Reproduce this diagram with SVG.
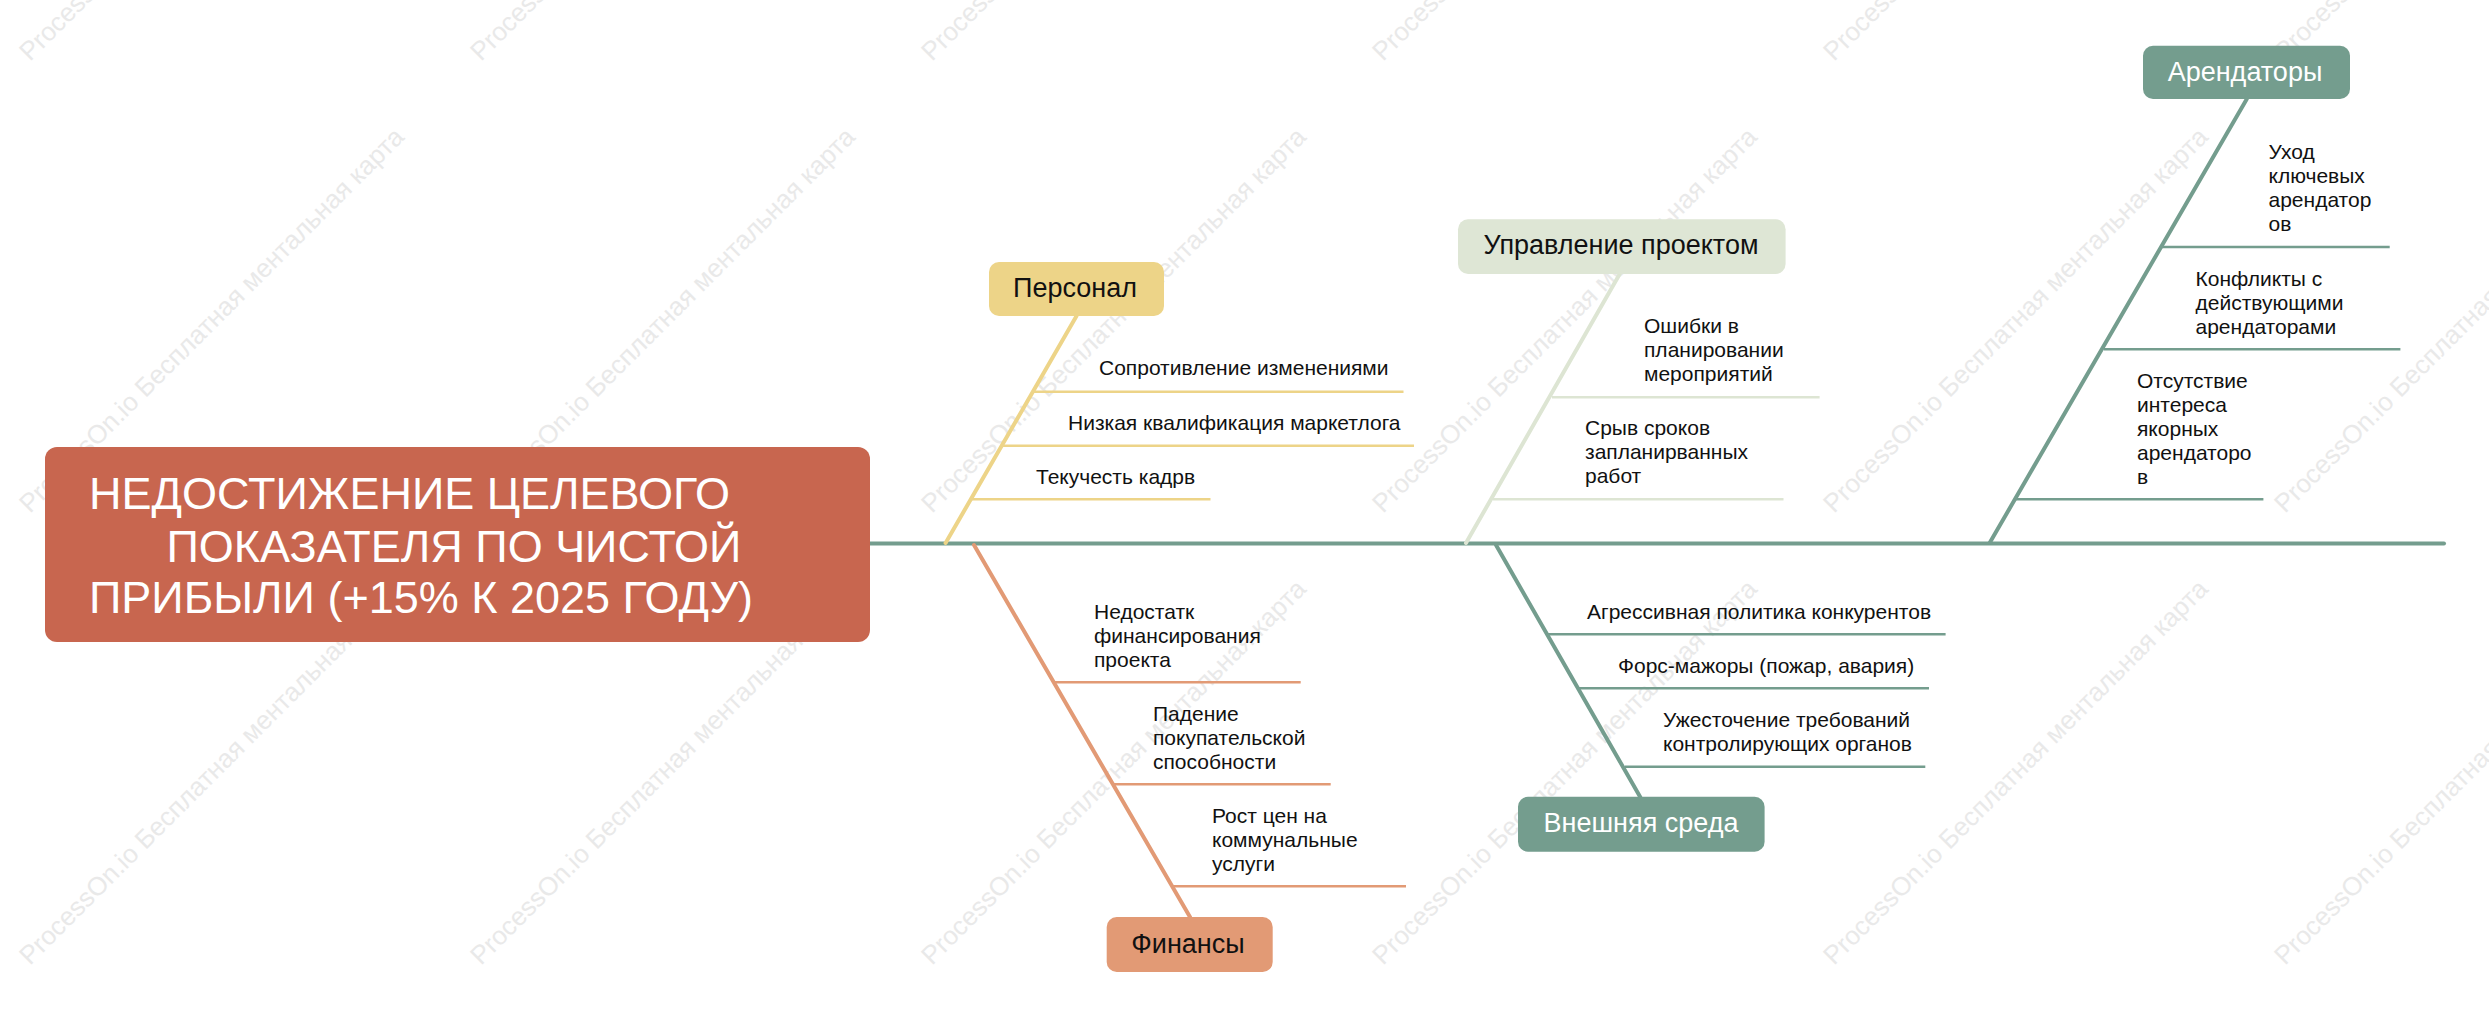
<svg xmlns="http://www.w3.org/2000/svg" width="2489" height="1032" viewBox="0 0 2489 1032">
<style>
text{font-family:"Liberation Sans",Arial,sans-serif}
.wm{font-size:26px;fill:#E9E9E9}
.leaf{font-size:21px;fill:#111}
.cat{font-size:27px;text-anchor:middle}
.dark{fill:#111}
.light{fill:#fff}
.main{font-size:45px;fill:#fff}
.teal{stroke:#749D8E}
.sage{stroke:#DDE5D3}
.gold{stroke:#EDD488}
.coral{stroke:#E29A75}
.bone{stroke-width:4;fill:none;stroke-linecap:round}
.sub{stroke-width:2.6;fill:none}
</style>
<rect width="2489" height="1032" fill="#fff"/>
<g id="watermarks">
<text class="wm" transform="translate(30,62) rotate(-45)">ProcessOn.io Бесплатная ментальная карта</text>
<text class="wm" transform="translate(481,62) rotate(-45)">ProcessOn.io Бесплатная ментальная карта</text>
<text class="wm" transform="translate(932,62) rotate(-45)">ProcessOn.io Бесплатная ментальная карта</text>
<text class="wm" transform="translate(1383,62) rotate(-45)">ProcessOn.io Бесплатная ментальная карта</text>
<text class="wm" transform="translate(1834,62) rotate(-45)">ProcessOn.io Бесплатная ментальная карта</text>
<text class="wm" transform="translate(2285,62) rotate(-45)">ProcessOn.io Бесплатная ментальная карта</text>
<text class="wm" transform="translate(30,514) rotate(-45)">ProcessOn.io Бесплатная ментальная карта</text>
<text class="wm" transform="translate(481,514) rotate(-45)">ProcessOn.io Бесплатная ментальная карта</text>
<text class="wm" transform="translate(932,514) rotate(-45)">ProcessOn.io Бесплатная ментальная карта</text>
<text class="wm" transform="translate(1383,514) rotate(-45)">ProcessOn.io Бесплатная ментальная карта</text>
<text class="wm" transform="translate(1834,514) rotate(-45)">ProcessOn.io Бесплатная ментальная карта</text>
<text class="wm" transform="translate(2285,514) rotate(-45)">ProcessOn.io Бесплатная ментальная карта</text>
<text class="wm" transform="translate(30,966) rotate(-45)">ProcessOn.io Бесплатная ментальная карта</text>
<text class="wm" transform="translate(481,966) rotate(-45)">ProcessOn.io Бесплатная ментальная карта</text>
<text class="wm" transform="translate(932,966) rotate(-45)">ProcessOn.io Бесплатная ментальная карта</text>
<text class="wm" transform="translate(1383,966) rotate(-45)">ProcessOn.io Бесплатная ментальная карта</text>
<text class="wm" transform="translate(1834,966) rotate(-45)">ProcessOn.io Бесплатная ментальная карта</text>
<text class="wm" transform="translate(2285,966) rotate(-45)">ProcessOn.io Бесплатная ментальная карта</text>
</g>
<g id="connectors">
<line class="bone teal" x1="868" y1="543.5" x2="2444" y2="543.5"/>
<line class="bone gold" x1="1076.5" y1="316" x2="945.6" y2="543"/>
<line class="sub gold" x1="1034" y1="391.7" x2="1403.5" y2="391.7"/>
<line class="sub gold" x1="1003" y1="445.7" x2="1414" y2="445.7"/>
<line class="sub gold" x1="972" y1="499.3" x2="1210.5" y2="499.3"/>
<line class="bone coral" x1="974" y1="545" x2="1190" y2="917"/>
<line class="sub coral" x1="1055" y1="682.3" x2="1300.7" y2="682.3"/>
<line class="sub coral" x1="1114" y1="784.3" x2="1330.7" y2="784.3"/>
<line class="sub coral" x1="1173" y1="886.3" x2="1406" y2="886.3"/>
<line class="bone sage" x1="1619.7" y1="274" x2="1466" y2="543"/>
<line class="sub sage" x1="1552" y1="397.3" x2="1819.6" y2="397.3"/>
<line class="sub sage" x1="1493" y1="499.3" x2="1783.5" y2="499.3"/>
<line class="bone teal" x1="1496" y1="545" x2="1640.2" y2="797"/>
<line class="sub teal" x1="1548" y1="634.3" x2="1945.6" y2="634.3"/>
<line class="sub teal" x1="1579" y1="688.3" x2="1929" y2="688.3"/>
<line class="sub teal" x1="1625" y1="766.7" x2="1925.3" y2="766.7"/>
<line class="bone teal" x1="2246.8" y1="99" x2="1989.6" y2="543"/>
<line class="sub teal" x1="2162" y1="247" x2="2389.7" y2="247"/>
<line class="sub teal" x1="2104" y1="349.3" x2="2400.4" y2="349.3"/>
<line class="sub teal" x1="2016" y1="499.3" x2="2263.4" y2="499.3"/>
</g>
<g id="root">
<rect x="45" y="447" width="825" height="195" rx="12" fill="#C8664F"/>
<text class="main"><tspan x="89" y="509">НЕДОСТИЖЕНИЕ ЦЕЛЕВОГО</tspan><tspan x="166.5" y="562">ПОКАЗАТЕЛЯ ПО ЧИСТОЙ</tspan><tspan x="89" y="613">ПРИБЫЛИ (+15% К 2025 ГОДУ)</tspan></text>
</g>
<g id="personal">
<rect x="989" y="262" width="175" height="54" rx="10" fill="#EDD488"/>
<text class="cat dark" x="1075" y="297">Персонал</text>
</g>
<g id="personal-1"><text class="leaf" x="1099" y="375">Сопротивление изменениями</text></g>
<g id="personal-2"><text class="leaf" x="1068" y="430">Низкая квалификация маркетлога</text></g>
<g id="personal-3"><text class="leaf" x="1036" y="484">Текучесть кадрв</text></g>
<g id="finance">
<rect x="1106.7" y="917" width="166" height="55" rx="10" fill="#E29A75"/>
<text class="cat dark" x="1188" y="953">Финансы</text>
</g>
<g id="finance-1"><text class="leaf"><tspan x="1094" y="619">Недостатк</tspan><tspan x="1094" y="643">финансирования</tspan><tspan x="1094" y="667">проекта</tspan></text></g>
<g id="finance-2"><text class="leaf"><tspan x="1153" y="721">Падение</tspan><tspan x="1153" y="745">покупательской</tspan><tspan x="1153" y="769">способности</tspan></text></g>
<g id="finance-3"><text class="leaf"><tspan x="1212" y="823">Рост цен на</tspan><tspan x="1212" y="847">коммунальные</tspan><tspan x="1212" y="871">услуги</tspan></text></g>
<g id="project">
<rect x="1458" y="219.3" width="327.6" height="54.7" rx="10" fill="#DEE6D5"/>
<text class="cat dark" x="1621" y="254">Управление проектом</text>
</g>
<g id="project-1"><text class="leaf"><tspan x="1644" y="333">Ошибки в</tspan><tspan x="1644" y="357">планировании</tspan><tspan x="1644" y="381">мероприятий</tspan></text></g>
<g id="project-2"><text class="leaf"><tspan x="1585" y="435">Срыв сроков</tspan><tspan x="1585" y="459">запланирванных</tspan><tspan x="1585" y="483">работ</tspan></text></g>
<g id="external">
<rect x="1518" y="796.7" width="246.6" height="55" rx="10" fill="#749D8E"/>
<text class="cat light" x="1641" y="832">Внешняя среда</text>
</g>
<g id="external-1"><text class="leaf" x="1587" y="619">Агрессивная политика конкурентов</text></g>
<g id="external-2"><text class="leaf" x="1618" y="673">Форс-мажоры (пожар, авария)</text></g>
<g id="external-3"><text class="leaf"><tspan x="1663" y="727">Ужесточение требований</tspan><tspan x="1663" y="751">контролирующих органов</tspan></text></g>
<g id="tenants">
<rect x="2143" y="45.7" width="207" height="53.3" rx="10" fill="#749D8E"/>
<text class="cat light" x="2245" y="81">Арендаторы</text>
</g>
<g id="tenants-1"><text class="leaf"><tspan x="2268.5" y="159">Уход</tspan><tspan x="2268.5" y="183">ключевых</tspan><tspan x="2268.5" y="207">арендатор</tspan><tspan x="2268.5" y="231">ов</tspan></text></g>
<g id="tenants-2"><text class="leaf"><tspan x="2195.5" y="286">Конфликты с</tspan><tspan x="2195.5" y="310">действующими</tspan><tspan x="2195.5" y="334">арендаторами</tspan></text></g>
<g id="tenants-3"><text class="leaf"><tspan x="2137" y="388">Отсутствие</tspan><tspan x="2137" y="412">интереса</tspan><tspan x="2137" y="436">якорных</tspan><tspan x="2137" y="460">арендаторо</tspan><tspan x="2137" y="484">в</tspan></text></g>
</svg>
